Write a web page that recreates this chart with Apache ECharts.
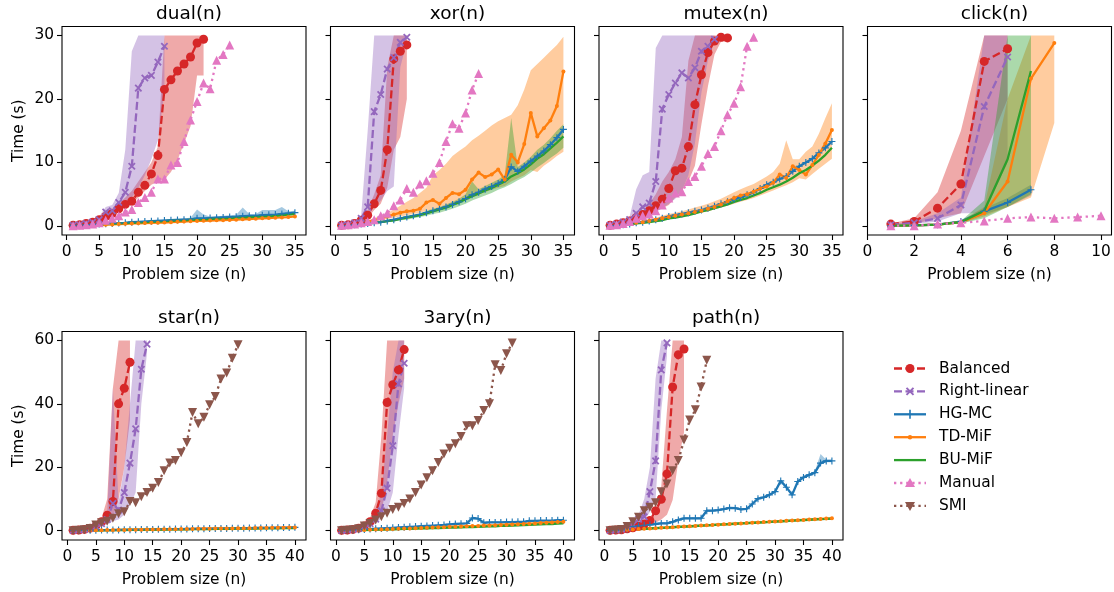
<!DOCTYPE html>
<html>
<head>
<meta charset="utf-8">
<script src="https://cdn.jsdelivr.net/npm/echarts@6/dist/echarts.min.js"></script>
<style>
  html, body { margin: 0; padding: 0; background: #fff; }
  #chart { width: 1114px; height: 592px; }
</style>
</head>
<body>
<div id="chart"></div>
<script>
// ---- panel titles / ticks ----
const titles = ['dual(n)', 'xor(n)', 'mutex(n)', 'click(n)', 'star(n)', '3ary(n)', 'path(n)'];
const ticksN35 = [0, 5, 10, 15, 20, 25, 30, 35];
const ticksN40 = [0, 5, 10, 15, 20, 25, 30, 35, 40];
const ticksClick = [0, 2, 4, 6, 8, 10];
const ticksT30 = [0, 10, 20, 30];
const ticksT60 = [0, 20, 40, 60];
const legendNames = ['Balanced', 'Right-linear', 'HG-MC', 'TD-MiF', 'BU-MiF', 'Manual', 'SMI'];

// ---- dual(n) ----  (values start at n = 1)
const dualBal = [0.1, 0.2, 0.4, 0.6, 1.0, 1.5, 2.0, 2.7, 3.4, 3.9, 5.3, 6.4, 8.2, 11.1, 21.5, 23.0, 24.4, 25.5, 26.6, 28.8, 29.4];
const dualBalLo = [0.05, 0.1, 0.3, 0.5, 0.8, 1.2, 1.7, 2.3, 3.0, 3.5, 4.5, 5.5, 6.5, 7.0, 7.3, 8.5, 10.4, 13.0, 15.7, 23.7, 23.7];
const dualBalHi = [0.1, 0.3, 0.5, 0.8, 1.2, 2.0, 2.5, 3.5, 4.5, 5.5, 7.0, 8.5, 10.0, 12.5, 30, 30, 30, 30, 30, 30, 30];
const dualRight = [0.1, 0.2, 0.4, 0.6, 1.0, 2.2, 2.4, 3.7, 5.3, 9.4, 21.7, 23.3, 23.7, 25.8, 28.3];
const dualRightLo = [0.05, 0.1, 0.3, 0.5, 0.6, 1.4, 1.8, 2.4, 3.2, 4.5, 6.0, 8.0, 10.5, 13.5, 21.0];
const dualRightHi = [0.1, 0.3, 0.5, 0.8, 1.5, 3.0, 3.3, 5.2, 12.0, 27.5, 30, 30, 30, 30, 30];
const dualHG = [0.1, 0.15, 0.2, 0.25, 0.3, 0.35, 0.4, 0.45, 0.5, 0.6, 0.65, 0.7, 0.75, 0.8, 0.85, 0.9, 0.95, 1.0, 1.05, 1.2, 1.2, 1.25, 1.3, 1.35, 1.4, 1.45, 1.55, 1.6, 1.6, 1.7, 1.75, 1.8, 1.9, 2.0, 2.1];
const dualHGLo = [0.05, 0.1, 0.15, 0.2, 0.2, 0.25, 0.3, 0.35, 0.4, 0.45, 0.5, 0.55, 0.6, 0.65, 0.7, 0.75, 0.8, 0.85, 0.9, 0.95, 1.0, 1.05, 1.1, 1.15, 1.2, 1.25, 1.3, 1.35, 1.4, 1.45, 1.5, 1.55, 1.6, 1.7, 1.8];
const dualHGHi = [0.2, 0.25, 0.3, 0.35, 0.4, 0.45, 0.5, 0.6, 0.65, 0.75, 0.8, 0.85, 0.9, 1.0, 1.05, 1.1, 1.15, 1.2, 1.3, 2.6, 1.8, 1.5, 1.55, 1.6, 1.7, 1.75, 2.9, 1.9, 1.9, 2.5, 2.5, 2.5, 3.0, 2.3, 2.4];
const dualTD = [0.05, 0.1, 0.12, 0.15, 0.18, 0.2, 0.25, 0.3, 0.35, 0.4, 0.42, 0.45, 0.5, 0.52, 0.55, 0.6, 0.65, 0.7, 0.75, 0.8, 0.82, 0.85, 0.9, 0.92, 0.95, 1.0, 1.05, 1.1, 1.15, 1.2, 1.25, 1.3, 1.35, 1.4, 1.5];
const dualBU = [0.05, 0.1, 0.15, 0.2, 0.25, 0.3, 0.35, 0.4, 0.45, 0.5, 0.55, 0.6, 0.65, 0.7, 0.75, 0.8, 0.85, 0.9, 0.95, 1.0, 1.05, 1.1, 1.15, 1.2, 1.25, 1.3, 1.35, 1.4, 1.45, 1.5, 1.55, 1.6, 1.7, 1.8, 1.9];
const dualManual = [0.05, 0.1, 0.2, 0.3, 0.5, 0.9, 1.2, 1.6, 2.2, 2.6, 3.7, 4.5, 5.3, 7.4, 7.4, 9.6, 10.0, 13.3, 16.7, 19.6, 22.5, 21.6, 26.1, 27.0, 28.5];

// ---- xor(n) ----
const xorBal = [0.1, 0.2, 0.4, 0.9, 1.7, 3.5, 5.6, 12.0, 26.3, 27.5, 28.5];
const xorBalLo = [0.05, 0.1, 0.2, 0.6, 1.2, 2.5, 3.5, 6.0, 12.0, 14.0, 20.0];
const xorBalHi = [0.1, 0.3, 0.6, 1.2, 2.5, 5.0, 8.0, 25.0, 30, 30, 30];
const xorRight = [0.1, 0.2, 0.5, 1.2, 3.0, 18.0, 20.7, 24.7, 26.5, 28.9, 29.7];
const xorRightLo = [0.05, 0.1, 0.3, 0.8, 1.5, 3.0, 4.0, 5.5, 6.2, 25.0, 29.0];
const xorRightHi = [0.1, 0.3, 0.7, 1.6, 15.0, 30, 30, 30, 30, 30, 30];
const xorHG = [0.05, 0.1, 0.2, 0.3, 0.4, 0.5, 0.6, 0.8, 1.0, 1.2, 1.4, 1.6, 1.8, 2.1, 2.4, 2.7, 3.0, 3.4, 3.8, 4.3, 4.9, 5.3, 5.8, 6.2, 6.7, 7.3, 9.3, 8.6, 9.4, 10.2, 11.0, 11.8, 12.8, 13.9, 15.2];
const xorTD = [0.1, 0.2, 0.3, 0.5, 0.7, 0.9, 1.2, 1.5, 1.8, 2.1, 2.3, 2.4, 2.7, 3.7, 4.1, 3.5, 4.4, 5.2, 5.0, 5.7, 7.3, 8.4, 7.7, 8.1, 8.9, 7.3, 11.2, 10.0, 12.9, 17.8, 14.1, 15.4, 16.6, 18.9, 24.3];
const xorTDLo = [0.05, 0.1, 0.2, 0.3, 0.5, 0.7, 0.9, 1.1, 1.3, 1.5, 1.7, 1.9, 2.1, 2.4, 2.6, 2.9, 3.2, 3.5, 3.8, 4.1, 4.5, 4.9, 5.3, 5.7, 6.0, 6.3, 7.0, 7.5, 8.0, 8.8, 8.5, 9.5, 10.2, 11.0, 11.7];
const xorTDHi = [0.1, 0.3, 0.4, 0.6, 0.9, 1.2, 1.6, 2.0, 2.6, 3.2, 3.8, 4.4, 5.2, 6.0, 8.0, 8.8, 9.8, 11.0, 11.8, 12.5, 13.5, 14.2, 15.0, 15.8, 16.5, 17.0, 17.5, 19.0, 21.5, 24.5, 25.5, 26.5, 27.5, 28.5, 29.8];
const xorBU = [0.05, 0.1, 0.2, 0.3, 0.4, 0.5, 0.6, 0.75, 0.9, 1.1, 1.3, 1.5, 1.7, 2.0, 2.3, 2.6, 2.9, 3.3, 3.7, 4.2, 4.7, 5.1, 5.6, 6.0, 6.5, 7.0, 7.8, 8.3, 8.9, 9.7, 10.6, 11.3, 12.2, 13.1, 14.1];
const xorBULo = [0.02, 0.05, 0.1, 0.2, 0.3, 0.4, 0.5, 0.6, 0.7, 0.9, 1.0, 1.2, 1.4, 1.6, 1.9, 2.1, 2.4, 2.7, 3.1, 3.5, 4.0, 4.4, 4.8, 5.2, 5.7, 6.1, 6.6, 7.2, 7.7, 8.4, 9.2, 9.9, 10.7, 11.4, 12.3];
const xorBUHi = [0.1, 0.2, 0.3, 0.4, 0.5, 0.6, 0.8, 0.9, 1.1, 1.3, 1.6, 1.8, 2.0, 2.4, 2.7, 3.0, 3.4, 3.8, 4.3, 5.0, 7.0, 5.8, 6.3, 6.8, 7.3, 8.0, 17.0, 9.3, 10.0, 10.9, 12.0, 12.8, 13.8, 15.0, 16.0];
const xorManual = [0.1, 0.2, 0.3, 0.5, 0.7, 1.0, 1.6, 2.0, 3.2, 4.1, 5.9, 5.3, 6.6, 7.1, 8.3, 10.0, 13.3, 16.1, 15.4, 17.8, 21.4, 24.0];

// ---- mutex(n) ----
const mutexBal = [0.1, 0.3, 0.5, 0.8, 1.3, 1.8, 2.4, 3.2, 4.2, 5.9, 8.7, 9.1, 12.5, 19.1, 23.8, 27.3, 29.1, 29.7, 29.6];
const mutexBalLo = [0.05, 0.1, 0.3, 0.6, 0.9, 1.3, 1.8, 2.3, 2.8, 3.3, 4.5, 5.5, 7.0, 9.5, 16.0, 22.0, 27.0, 29.0, 29.0];
const mutexBalHi = [0.1, 0.4, 0.7, 1.0, 1.6, 2.3, 3.5, 5.0, 7.0, 8.5, 10.5, 14.0, 26.0, 30, 30, 30, 30, 30, 30];
const mutexRight = [0.1, 0.3, 0.6, 1.0, 2.0, 3.0, 3.6, 7.0, 18.4, 20.7, 22.5, 24.1, 23.3, 24.9, 27.5, 28.3, 29.4];
const mutexRightLo = [0.05, 0.1, 0.3, 0.6, 0.9, 1.5, 1.8, 2.2, 2.8, 3.5, 4.3, 5.5, 8.0, 13.0, 21.0, 26.0, 29.0];
const mutexRightHi = [0.1, 0.4, 0.8, 1.5, 5.8, 8.0, 8.5, 28.0, 30, 30, 30, 30, 30, 30, 30, 30, 30];
const mutexHG = [0.05, 0.1, 0.2, 0.3, 0.5, 0.6, 0.8, 1.0, 1.2, 1.5, 1.7, 1.9, 2.1, 2.3, 2.5, 2.8, 3.1, 3.5, 3.8, 4.2, 4.5, 4.9, 5.3, 5.9, 6.5, 6.9, 7.4, 7.8, 8.6, 9.4, 10.0, 10.6, 11.5, 12.3, 13.3];
const mutexTD = [0.05, 0.1, 0.2, 0.3, 0.5, 0.6, 0.8, 1.0, 1.2, 1.4, 1.6, 1.8, 2.0, 2.2, 2.4, 2.7, 3.0, 3.4, 3.9, 4.4, 4.8, 5.0, 5.4, 5.9, 6.2, 6.8, 8.1, 7.6, 9.4, 8.8, 8.1, 9.6, 11.2, 13.0, 15.1];
const mutexTDLo = [0.0, 0.05, 0.1, 0.2, 0.3, 0.4, 0.5, 0.7, 0.9, 1.1, 1.3, 1.5, 1.7, 1.9, 2.1, 2.3, 2.6, 2.9, 3.2, 3.5, 3.8, 4.1, 4.4, 4.8, 5.2, 5.6, 6.0, 6.4, 6.9, 7.5, 7.3, 8.2, 9.0, 9.8, 10.6];
const mutexTDHi = [0.1, 0.2, 0.3, 0.5, 0.7, 0.9, 1.1, 1.3, 1.6, 1.9, 2.1, 2.3, 2.6, 2.9, 3.2, 3.5, 3.9, 4.3, 4.8, 5.3, 5.8, 6.2, 6.6, 7.2, 7.8, 8.5, 9.8, 13.5, 10.5, 10.5, 11.7, 12.5, 14.5, 17.0, 19.3];
const mutexBU = [0.05, 0.1, 0.15, 0.25, 0.4, 0.5, 0.6, 0.75, 0.9, 1.2, 1.3, 1.5, 1.7, 2.0, 2.3, 2.5, 2.8, 3.1, 3.4, 3.8, 4.1, 4.4, 4.8, 5.2, 5.7, 6.1, 6.5, 7.0, 7.6, 8.3, 8.8, 9.5, 10.3, 11.2, 12.3];
const mutexManual = [0.1, 0.2, 0.4, 0.7, 1.2, 1.6, 1.9, 2.4, 3.3, 4.4, 5.2, 5.4, 7.0, 7.8, 9.4, 11.4, 12.5, 15.0, 17.5, 19.3, 21.9, 28.3, 29.7];

// ---- click(n) ----
const clickBal = [0.3, 0.7, 2.8, 6.6, 25.9, 27.9];
const clickBalLo = [0.2, 0.3, 1.2, 2.0, 11.0, 20.0];
const clickBalHi = [0.4, 1.2, 5.3, 15.0, 30, 30];
const clickRight = [0.2, 0.5, 1.2, 3.3, 18.8, 26.6];
const clickRightLo = [0.1, 0.3, 0.7, 2.0, 2.0, 10.0];
const clickRightHi = [0.3, 0.7, 2.0, 4.5, 30, 30];
const clickHG = [0.05, 0.1, 0.2, 0.7, 2.3, 3.7, 5.7];
const clickHGLo = [0.02, 0.05, 0.1, 0.5, 1.8, 3.0, 4.8];
const clickHGHi = [0.1, 0.2, 0.3, 0.9, 2.8, 4.4, 6.5];
const clickTD = [0.05, 0.1, 0.2, 0.6, 2.0, 7.0, 23.2, 28.8];
const clickTDLo = [0.02, 0.05, 0.1, 0.4, 1.5, 3.0, 4.5, 16.2];
const clickTDHi = [0.1, 0.2, 0.3, 0.8, 3.0, 20.0, 30, 30];
const clickBU = [0.05, 0.1, 0.2, 0.6, 2.4, 10.5, 24.4];
const clickBULo = [0.0, 0.05, 0.1, 0.4, 1.2, 3.0, 5.0];
const clickBUHi = [0.1, 0.2, 0.3, 0.8, 4.0, 30, 30];
const clickManual = [0.05, 0.05, 0.3, 0.5, 0.8, 1.2, 1.4, 1.2, 1.4, 1.6];

// ---- star(n) ----
const starBal = [0.1, 0.2, 0.4, 0.8, 1.5, 2.8, 4.9, 9.2, 40.0, 44.9, 53.1];
const starBalLo = [0.05, 0.1, 0.2, 0.5, 0.9, 1.8, 2.5, 4.0, 10.0, 20.0, 35.0];
const starBalHi = [0.2, 0.4, 0.7, 1.2, 2.2, 4.0, 10.0, 45.0, 60, 60, 60];
const starRight = [0.1, 0.2, 0.4, 0.7, 1.3, 2.2, 3.5, 8.6, 6.5, 12.0, 21.3, 32.1, 50.9, 58.8];
const starRightLo = [0.05, 0.1, 0.2, 0.4, 0.8, 1.2, 2.0, 3.0, 3.5, 5.0, 8.0, 12.0, 40.0, 56.0];
const starRightHi = [0.2, 0.3, 0.6, 1.1, 2.2, 4.0, 6.0, 45.0, 9.0, 20.0, 40.0, 60, 60, 60];
const starHG = [0.05, 0.08, 0.1, 0.12, 0.15, 0.18, 0.2, 0.22, 0.25, 0.28, 0.3, 0.32, 0.35, 0.38, 0.4, 0.42, 0.45, 0.48, 0.5, 0.52, 0.55, 0.58, 0.6, 0.62, 0.65, 0.68, 0.7, 0.72, 0.75, 0.78, 0.8, 0.82, 0.85, 0.88, 0.9, 0.92, 0.95, 0.98, 1.0, 1.05];
const starTD = [0.05, 0.07, 0.09, 0.11, 0.14, 0.16, 0.18, 0.2, 0.23, 0.25, 0.28, 0.3, 0.32, 0.35, 0.37, 0.4, 0.42, 0.45, 0.47, 0.5, 0.52, 0.55, 0.57, 0.6, 0.62, 0.65, 0.67, 0.7, 0.72, 0.75, 0.77, 0.8, 0.82, 0.85, 0.87, 0.9, 0.92, 0.95, 0.97, 1.0];
const starBU = [0.04, 0.06, 0.08, 0.1, 0.12, 0.14, 0.16, 0.18, 0.2, 0.22, 0.24, 0.26, 0.28, 0.3, 0.32, 0.34, 0.36, 0.38, 0.4, 0.42, 0.44, 0.46, 0.48, 0.5, 0.52, 0.54, 0.56, 0.58, 0.6, 0.62, 0.64, 0.66, 0.68, 0.7, 0.72, 0.74, 0.76, 0.78, 0.8, 0.85];
const starSMI = [0.0, 0.1, 0.3, 0.7, 1.8, 2.5, 3.0, 3.9, 5.3, 6.0, 9.2, 8.8, 10.7, 12.0, 13.4, 15.2, 18.9, 21.3, 22.1, 24.6, 27.8, 37.3, 33.7, 35.8, 39.7, 42.3, 47.8, 49.7, 54.4, 58.6];

// ---- 3ary(n) ----
const aryBal = [0.1, 0.2, 0.4, 0.8, 1.5, 2.8, 5.5, 11.8, 40.4, 46.0, 50.7, 57.1];
const aryBalLo = [0.05, 0.1, 0.2, 0.5, 0.9, 1.8, 3.0, 6.0, 15.0, 30.0, 40.0, 48.0];
const aryBalHi = [0.2, 0.4, 0.7, 1.2, 2.2, 4.0, 9.0, 30.0, 60, 60, 60, 60];
const aryRight = [0.1, 0.2, 0.4, 0.7, 1.3, 2.2, 3.6, 6.3, 13.4, 26.8, 46.3, 52.8];
const aryRightLo = [0.05, 0.1, 0.2, 0.4, 0.8, 1.4, 2.2, 4.0, 6.0, 12.0, 30.0, 45.0];
const aryRightHi = [0.2, 0.3, 0.6, 1.0, 2.0, 3.5, 6.0, 12.0, 30.0, 50.0, 60, 60];
const aryHG = [0.05, 0.1, 0.2, 0.3, 0.4, 0.5, 0.6, 0.7, 0.8, 0.9, 1.0, 1.1, 1.2, 1.3, 1.4, 1.5, 1.6, 1.7, 1.8, 2.0, 2.1, 2.2, 2.3, 4.0, 3.8, 2.5, 2.6, 2.6, 2.6, 2.7, 2.7, 2.8, 2.8, 3.1, 3.1, 3.2, 3.2, 3.2, 3.3, 3.3];
const aryTD = [0.05, 0.1, 0.15, 0.2, 0.25, 0.3, 0.35, 0.4, 0.45, 0.5, 0.6, 0.65, 0.7, 0.8, 0.85, 0.9, 1.0, 1.05, 1.1, 1.2, 1.25, 1.3, 1.4, 1.45, 1.5, 1.6, 1.65, 1.7, 1.8, 1.9, 1.95, 2.0, 2.1, 2.2, 2.3, 2.4, 2.5, 2.6, 2.7, 2.8];
const aryBU = [0.05, 0.1, 0.12, 0.15, 0.2, 0.25, 0.3, 0.35, 0.4, 0.45, 0.5, 0.55, 0.6, 0.65, 0.7, 0.75, 0.8, 0.85, 0.9, 0.95, 1.0, 1.05, 1.1, 1.15, 1.2, 1.3, 1.35, 1.4, 1.5, 1.55, 1.6, 1.7, 1.75, 1.8, 1.9, 2.0, 2.05, 2.1, 2.2, 2.3];
const arySMI = [0.0, 0.1, 0.3, 0.6, 1.5, 2.3, 3.4, 4.4, 5.5, 6.7, 7.4, 8.6, 10.0, 12.0, 14.4, 16.7, 18.9, 21.5, 24.2, 26.0, 27.4, 29.7, 33.1, 33.1, 34.7, 37.9, 40.0, 52.3, 50.5, 55.8, 59.2];

// ---- path(n) ----
const pathBal = [0.1, 0.2, 0.3, 0.6, 0.9, 1.4, 2.1, 3.2, 6.3, 9.9, 17.9, 45.3, 55.5, 57.3];
const pathBalLo = [0.05, 0.1, 0.2, 0.4, 0.6, 1.0, 1.5, 2.0, 2.5, 3.5, 5.0, 9.7, 22.0, 31.0];
const pathBalHi = [0.2, 0.3, 0.5, 0.8, 1.2, 1.8, 2.8, 4.0, 5.0, 14.0, 38.0, 60, 60, 60];
const pathRight = [0.1, 0.2, 0.5, 1.0, 1.8, 3.6, 4.4, 12.3, 22.0, 50.7, 59.2];
const pathRightLo = [0.05, 0.1, 0.3, 0.6, 1.2, 2.0, 3.0, 6.0, 10.0, 38.0, 55.0];
const pathRightHi = [0.2, 0.3, 0.7, 1.4, 2.5, 5.0, 10.0, 20.0, 48.0, 60, 60];
const pathHG = [0.05, 0.1, 0.2, 0.5, 1.3, 1.5, 1.7, 1.9, 2.1, 2.3, 2.3, 2.8, 3.4, 3.9, 3.9, 3.9, 3.9, 6.3, 6.3, 6.5, 6.8, 7.2, 7.1, 6.7, 6.9, 8.4, 10.1, 10.5, 11.3, 12.3, 15.7, 13.7, 11.3, 15.5, 16.8, 17.6, 18.3, 21.3, 22.0, 22.0];
const pathHGLo = [0.02, 0.05, 0.1, 0.3, 1.0, 1.2, 1.4, 1.6, 1.8, 2.0, 2.0, 2.5, 3.1, 3.6, 3.6, 3.6, 3.6, 6.0, 6.0, 6.2, 6.5, 6.9, 6.8, 6.4, 6.6, 8.1, 9.8, 10.2, 11.0, 12.0, 15.3, 13.3, 11.0, 15.1, 16.4, 17.2, 17.9, 20.8, 21.6, 21.6];
const pathHGHi = [0.1, 0.2, 0.3, 0.7, 1.6, 1.8, 2.0, 2.2, 2.4, 2.6, 2.6, 3.1, 3.7, 4.2, 4.2, 4.2, 4.2, 6.6, 6.6, 6.8, 7.1, 7.5, 7.4, 7.0, 7.2, 8.7, 10.4, 10.8, 11.6, 12.6, 16.1, 14.1, 11.6, 15.9, 17.2, 18.0, 18.7, 24.2, 22.4, 22.4];
const pathTD = [0.05, 0.1, 0.2, 0.3, 0.4, 0.5, 0.6, 0.7, 0.8, 0.9, 1.0, 1.1, 1.2, 1.3, 1.4, 1.5, 1.6, 1.7, 1.8, 1.9, 2.0, 2.1, 2.2, 2.3, 2.4, 2.5, 2.6, 2.7, 2.8, 2.9, 3.0, 3.1, 3.2, 3.3, 3.4, 3.5, 3.6, 3.7, 3.8, 3.9];
const pathBU = [0.05, 0.1, 0.18, 0.28, 0.38, 0.48, 0.58, 0.68, 0.78, 0.88, 0.98, 1.08, 1.18, 1.28, 1.38, 1.48, 1.58, 1.68, 1.78, 1.88, 1.98, 2.08, 2.18, 2.28, 2.38, 2.48, 2.58, 2.66, 2.75, 2.85, 2.95, 3.05, 3.15, 3.25, 3.35, 3.45, 3.55, 3.65, 3.72, 3.8];
const pathSMI = [0.0, 0.2, 0.4, 1.3, 2.8, 4.2, 6.3, 7.4, 8.8, 12.3, 14.7, 18.9, 22.1, 28.6, 34.9, 38.1, 45.3, 53.7];

// ---- styles ----
const FONT = 'DejaVu Sans';
const PLUS = 'path://M4.2,0H5.8V4.2H10V5.8H5.8V10H4.2V5.8H0V4.2H4.2Z';
const CROSS = 'path://M4,0H6V4H10V6H6V10H4V6H0V4H4Z';
const DASHED = [8, 3.5], DOTTED = [2.3, 3.8];
const styles = {
  'Balanced':     { color: '#d62728', symbol: 'circle', size: 9, rotate: 0, dash: DASHED },
  'Right-linear': { color: '#9467bd', symbol: CROSS, size: 9, rotate: 45, dash: DASHED },
  'HG-MC':        { color: '#1f77b4', symbol: PLUS, size: 7, rotate: 0, dash: 'solid' },
  'TD-MiF':       { color: '#ff7f0e', symbol: 'circle', size: 4, rotate: 0, dash: 'solid' },
  'BU-MiF':       { color: '#2ca02c', symbol: 'none', size: 0, rotate: 0, dash: 'solid' },
  'Manual':       { color: '#e377c2', symbol: 'triangle', size: 9, rotate: 0, dash: DOTTED },
  'SMI':          { color: '#8c564b', symbol: 'triangle', size: 9, rotate: 180, dash: DOTTED }
};

function pts(arr) {
  return arr.map(function(v, i) { return [i + 1, v]; });
}

function rgba(hex, a) {
  let r = parseInt(hex.substr(1, 2), 16), g = parseInt(hex.substr(3, 2), 16),
    b = parseInt(hex.substr(5, 2), 16);
  return 'rgba(' + r + ',' + g + ',' + b + ',' + a + ')';
}

function line(g, name, arr) {
  let s = styles[name];
  return {
    type: 'line', name: name, xAxisIndex: g, yAxisIndex: g, z: 3,
    data: pts(arr),
    symbol: s.symbol, symbolSize: s.size, symbolRotate: s.rotate,
    showAllSymbol: true,
    lineStyle: { color: s.color, width: 2.3, type: s.dash },
    itemStyle: { color: s.color },
    emphasis: { disabled: true },
    animation: false
  };
}

function band(g, name, lo, hi) {
  let fill = rgba(styles[name].color, 0.4);
  return {
    type: 'custom', name: name + ' band', xAxisIndex: g, yAxisIndex: g, z: 1,
    silent: true, clip: true, animation: false,
    data: [[1, hi[0]]],
    encode: { x: 0, y: 1 },
    renderItem: function(params, api) {
      let p = [];
      for (let i = 0; i < hi.length; i++) p.push(api.coord([i + 1, hi[i]]));
      for (let i = lo.length - 1; i >= 0; i--) p.push(api.coord([i + 1, lo[i]]));
      return { type: 'polygon', shape: { points: p }, style: { fill: fill } };
    }
  };
}

// legend drawn by hand so BU-MiF keeps no marker and TD-MiF a small dot
function legendGraphics() {
  let out = [];
  let x1 = 894, x2 = 926, cx = 910;
  legendNames.forEach(function(name, i) {
    let s = styles[name], y = 368.5 + i * 22.9;
    out.push({
      type: 'line', shape: { x1: x1, y1: y, x2: x2, y2: y },
      style: { stroke: s.color, lineWidth: 2.3, lineDash: s.dash === 'solid' ? null : s.dash }
    });
    if (name === 'Balanced') {
      out.push({ type: 'circle', shape: { cx: cx, cy: y, r: 4.5 }, style: { fill: s.color } });
    } else if (name === 'TD-MiF') {
      out.push({ type: 'circle', shape: { cx: cx, cy: y, r: 2.2 }, style: { fill: s.color } });
    } else if (name === 'Right-linear') {
      out.push({ type: 'line', shape: { x1: cx - 3.5, y1: y - 3.5, x2: cx + 3.5, y2: y + 3.5 }, style: { stroke: s.color, lineWidth: 2 } });
      out.push({ type: 'line', shape: { x1: cx - 3.5, y1: y + 3.5, x2: cx + 3.5, y2: y - 3.5 }, style: { stroke: s.color, lineWidth: 2 } });
    } else if (name === 'HG-MC') {
      out.push({ type: 'line', shape: { x1: cx, y1: y - 4.5, x2: cx, y2: y + 4.5 }, style: { stroke: s.color, lineWidth: 1.6 } });
    } else if (name === 'Manual') {
      out.push({ type: 'polygon', shape: { points: [[cx, y - 5], [cx - 5, y + 4], [cx + 5, y + 4]] }, style: { fill: s.color } });
    } else if (name === 'SMI') {
      out.push({ type: 'polygon', shape: { points: [[cx, y + 5], [cx - 5, y - 4], [cx + 5, y - 4]] }, style: { fill: s.color } });
    }
    out.push({
      type: 'text', x: 939, y: y,
      style: { text: name, fill: '#000', fontFamily: FONT, fontSize: 15.4, verticalAlign: 'middle', align: 'left' }
    });
  });
  return out;
}

// ---- layout (px) ----
const colLeft = [62, 330.5, 599, 867.5];
const rowTop = [26.5, 331.5];
const W = 244, H = 208.5;

let grids = [], xAxes = [], yAxes = [], titleList = [];
for (let g = 0; g < 7; g++) {
  let row = g < 4 ? 0 : 1, col = g < 4 ? g : g - 4;
  grids.push({
    left: colLeft[col], top: rowTop[row], width: W, height: H,
    show: true, borderColor: '#000', borderWidth: 1.1, backgroundColor: 'transparent'
  });
  let xr, xt;
  if (g === 3) { xr = [0, 10.45]; xt = ticksClick; }
  else if (row === 0) { xr = [-0.7, 36.7]; xt = ticksN35; }
  else { xr = [-0.95, 41.95]; xt = ticksN40; }
  xAxes.push({
    type: 'value', gridIndex: g, min: xr[0], max: xr[1],
    name: 'Problem size (n)', nameLocation: 'middle', nameGap: 32,
    nameTextStyle: { fontFamily: FONT, fontSize: 15.4, color: '#000' },
    axisLine: { show: false, onZero: false },
    axisTick: { show: true, length: 5, lineStyle: { color: '#000', width: 1.1 }, customValues: xt },
    axisLabel: { fontFamily: FONT, fontSize: 15.4, color: '#000', margin: 9, customValues: xt },
    splitLine: { show: false }
  });
  let yr = row === 0 ? [-1.42, 31.4] : [-2.94, 62.8];
  let yt = row === 0 ? ticksT30 : ticksT60;
  yAxes.push({
    type: 'value', gridIndex: g, min: yr[0], max: yr[1],
    name: col === 0 ? 'Time (s)' : '', nameLocation: 'middle', nameGap: 36,
    nameTextStyle: { fontFamily: FONT, fontSize: 15.4, color: '#000' },
    axisLine: { show: false, onZero: false },
    axisTick: { show: true, length: 5, lineStyle: { color: '#000', width: 1.1 }, customValues: yt },
    axisLabel: { show: col === 0, fontFamily: FONT, fontSize: 15.4, color: '#000', margin: 8, customValues: yt },
    splitLine: { show: false }
  });
  titleList.push({
    text: titles[g], left: colLeft[col] + W / 2, top: row === 0 ? 0 : 304,
    textAlign: 'center',
    textStyle: { fontFamily: FONT, fontSize: 18.5, fontWeight: 'normal', color: '#000' }
  });
}

let series = [
  // dual
  band(0, 'Balanced', dualBalLo, dualBalHi),
  band(0, 'Right-linear', dualRightLo, dualRightHi),
  band(0, 'HG-MC', dualHGLo, dualHGHi),
  line(0, 'Balanced', dualBal), line(0, 'Right-linear', dualRight),
  line(0, 'HG-MC', dualHG), line(0, 'TD-MiF', dualTD), line(0, 'BU-MiF', dualBU),
  line(0, 'Manual', dualManual),
  // xor
  band(1, 'Balanced', xorBalLo, xorBalHi),
  band(1, 'Right-linear', xorRightLo, xorRightHi),
  band(1, 'TD-MiF', xorTDLo, xorTDHi),
  band(1, 'BU-MiF', xorBULo, xorBUHi),
  line(1, 'Balanced', xorBal), line(1, 'Right-linear', xorRight),
  line(1, 'HG-MC', xorHG), line(1, 'TD-MiF', xorTD), line(1, 'BU-MiF', xorBU),
  line(1, 'Manual', xorManual),
  // mutex
  band(2, 'Balanced', mutexBalLo, mutexBalHi),
  band(2, 'Right-linear', mutexRightLo, mutexRightHi),
  band(2, 'TD-MiF', mutexTDLo, mutexTDHi),
  line(2, 'Balanced', mutexBal), line(2, 'Right-linear', mutexRight),
  line(2, 'HG-MC', mutexHG), line(2, 'TD-MiF', mutexTD), line(2, 'BU-MiF', mutexBU),
  line(2, 'Manual', mutexManual),
  // click
  band(3, 'Balanced', clickBalLo, clickBalHi),
  band(3, 'Right-linear', clickRightLo, clickRightHi),
  band(3, 'HG-MC', clickHGLo, clickHGHi),
  band(3, 'TD-MiF', clickTDLo, clickTDHi),
  band(3, 'BU-MiF', clickBULo, clickBUHi),
  line(3, 'Balanced', clickBal), line(3, 'Right-linear', clickRight),
  line(3, 'HG-MC', clickHG), line(3, 'TD-MiF', clickTD), line(3, 'BU-MiF', clickBU),
  line(3, 'Manual', clickManual),
  // star
  band(4, 'Balanced', starBalLo, starBalHi),
  band(4, 'Right-linear', starRightLo, starRightHi),
  line(4, 'Balanced', starBal), line(4, 'Right-linear', starRight),
  line(4, 'HG-MC', starHG), line(4, 'TD-MiF', starTD), line(4, 'BU-MiF', starBU),
  line(4, 'SMI', starSMI),
  // 3ary
  band(5, 'Balanced', aryBalLo, aryBalHi),
  band(5, 'Right-linear', aryRightLo, aryRightHi),
  line(5, 'Balanced', aryBal), line(5, 'Right-linear', aryRight),
  line(5, 'HG-MC', aryHG), line(5, 'TD-MiF', aryTD), line(5, 'BU-MiF', aryBU),
  line(5, 'SMI', arySMI),
  // path
  band(6, 'Balanced', pathBalLo, pathBalHi),
  band(6, 'Right-linear', pathRightLo, pathRightHi),
  band(6, 'HG-MC', pathHGLo, pathHGHi),
  line(6, 'Balanced', pathBal), line(6, 'Right-linear', pathRight),
  line(6, 'HG-MC', pathHG), line(6, 'TD-MiF', pathTD), line(6, 'BU-MiF', pathBU),
  line(6, 'SMI', pathSMI)
];

let chart = echarts.init(document.getElementById('chart'), null, { renderer: 'canvas' });
chart.setOption({
  animation: false,
  backgroundColor: '#fff',
  title: titleList,
  grid: grids,
  xAxis: xAxes,
  yAxis: yAxes,
  graphic: legendGraphics(),
  series: series
});
</script>
</body>
</html>
